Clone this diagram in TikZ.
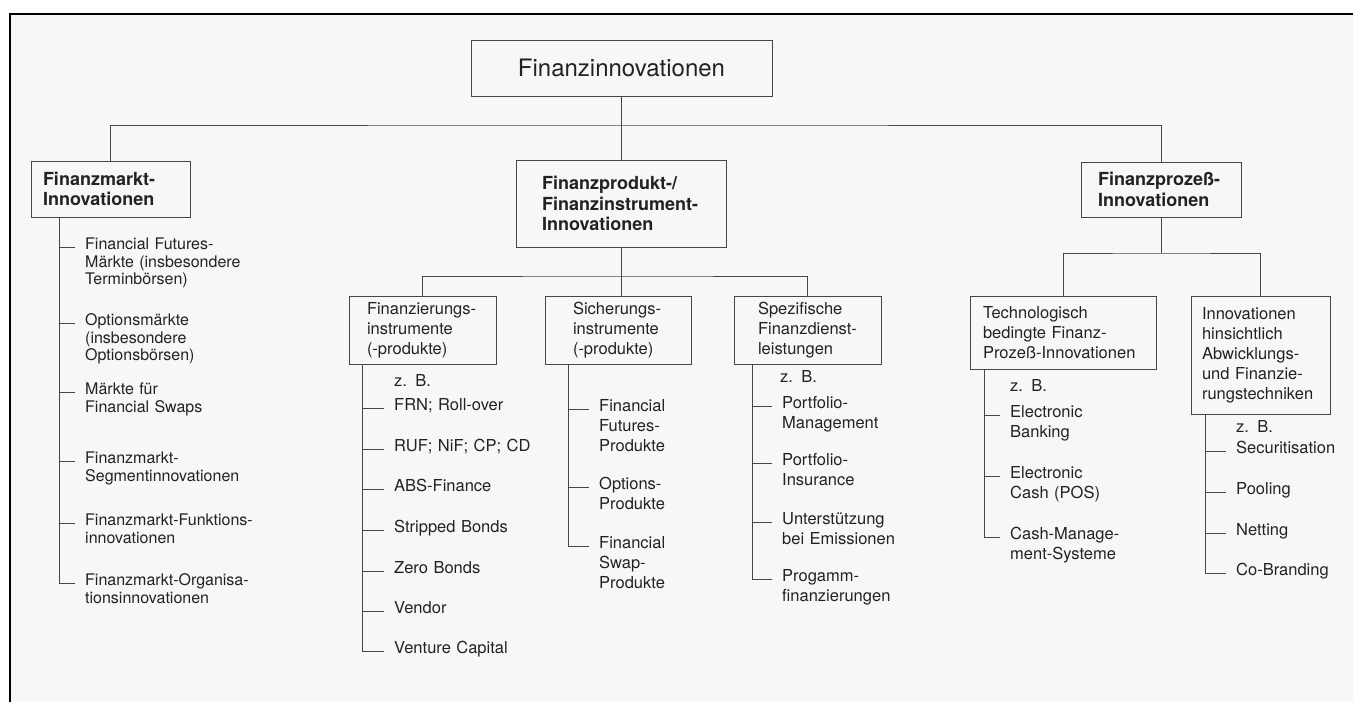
\documentclass[tikz,border=0pt]{standalone}
\usepackage{fontspec}
\setmainfont{TeX Gyre Heros}[WordSpace=0.6]
\definecolor{ink}{RGB}{34,34,34}
\definecolor{rule}{RGB}{70,70,70}
\definecolor{paper}{RGB}{247,247,247}
\tikzstyle{orgchart}=[
    box/.style n args={3}{draw=rule, line width=0.9pt, text=ink, align=left,
        inner ysep=0pt, inner xsep=##3, text width={##1-2*##3},
        minimum height=##2, font={\fontsize{16.5}{20}\selectfont}},
    head/.style n args={3}{box={##1}{##2}{##3}, font={\bfseries\fontsize{18}{20.5}\selectfont}},
    item/.style={anchor=mid west, align=left, text=ink, inner sep=0pt, text width=190pt,
        font={\fontsize{16.5}{20}\selectfont}},
    twig/.style={draw=rule, line width=0.8pt},
    bus/.style={draw=rule, line width=0.8pt},
    frame/.style={black, line width=2.5pt},
]
\newcommand{\twigs}[4][]{
    \begin{scope}[#1]
    \foreach \ypos/\lab/\txt in {#4}{
        \node[item] (\lab) at (#3,\ypos) {\txt};
        \draw[twig] (#2) |- ([xshift=-10pt]\lab.mid west);
    }
    \end{scope}
}

\begin{document}
\begin{tikzpicture}[orgchart, x=1pt, y=-1pt]
    \useasboundingbox (0,0) rectangle (1353,702);
    \fill[paper] (10,14) rectangle (1353,702);
    \draw[frame] (10,702) -- (10,14) -- (1353,14);

    % boxes
    \node[box={301}{56}{0}, align=center, font={\fontsize{24}{28}\selectfont}] (fin) at (621.5,68) {Finanzinnovationen};
    \node[head={159}{56}{12}] (fm) at (110.5,189) {Finanzmarkt-\\Innovationen};
    \node[head={210}{87}{26}] (pp) at (621,203.5) {Finanzprodukt-/\\Finanzinstrument-\\Innovationen};
    \node[head={160}{55}{17}] (pz) at (1161,189.5) {Finanzprozeß-\\Innovationen};
    \node[box={147}{68}{18}] (fi) at (422.5,330) {Finanzierungs-\\instrumente\\(-produkte)};
    \node[box={146}{68}{28}] (si) at (618,330) {Sicherungs-\\instrumente\\(-produkte)};
    \node[box={147}{68}{24}] (sp) at (807.5,330) {Spezifische\\Finanzdienst-\\leistungen};
    \node[box={186}{73}{13}] (tb) at (1063,332.5) {Technologisch\\bedingte Finanz-\\Prozeß-Innovationen};
    \node[box={139}{118}{11}] (ab) at (1260.5,355) {Innovationen\\hinsichtlich\\Abwicklungs-\\und Finanzie-\\rungstechniken};

    % connectors
    \coordinate (bus) at (621,125);
    \coordinate (bus2) at (621,276);
    \coordinate (bus3) at (1161,253);
    \draw[bus] (fin.south) -- (fin.south |- pp.north);
    \draw[bus] (fm) |- (bus) -| (pz);
    \draw[bus] (pp.south) -- (pp.south |- si.north);
    \draw[bus] (fi) |- (bus2) -| (sp);
    \draw[bus] (pz.south) -- (bus3);
    \draw[bus] (tb) |- (bus3) -| (ab);

    % z. B.
    \node[item] (fizb) at (394,384) {z. B.};
    \node[item] (spzb) at (780,380) {z. B.};
    \node[item] (tbzb) at (1010,389) {z. B.};
    \node[item] (abzb) at (1236,430) {z. B.};

    % lists
    \twigs[item/.append style={font={\fontsize{16}{17.5}\selectfont}}]{[xshift=29pt]fm.south west}{85}{
        247/fm1/{Financial Futures-\\Märkte (insbesondere\\Terminbörsen)},
        323/fm2/{Optionsmärkte\\(insbesondere\\Optionsbörsen)},
        392/fm3/{Märkte für\\Financial Swaps},
        461/fm4/{Finanzmarkt-\\Segmentinnovationen},
        523/fm5/{Finanzmarkt-Funktions-\\innovationen},
        583/fm6/{Finanzmarkt-Organisa-\\tionsinnovationen}}
    \twigs{[xshift=14pt]fi.south west}{394}{
        408/fi1/{FRN; Roll-over}, 449/fi2/{RUF; NiF; CP; CD},
        489/fi3/{ABS-Finance}, 530/fi4/{Stripped Bonds},
        571/fi5/{Zero Bonds}, 611/fi6/{Vendor}, 651/fi7/{Venture Capital}}
    \twigs{[xshift=24pt]si.south west}{599}{
        409/si1/{Financial\\Futures-\\Produkte},
        487/si2/{Options-\\Produkte},
        546/si3/{Financial\\Swap-\\Produkte}}
    \twigs{[xshift=19pt]sp.south west}{782}{
        406/sp1/{Portfolio-\\Management},
        463/sp2/{Portfolio-\\Insurance},
        522/sp3/{Unterstützung\\bei Emissionen},
        579/sp4/{Progamm-\\finanzierungen}}
    \twigs{[xshift=15pt]tb.south west}{1010}{
        415/tb1/{Electronic\\Banking},
        476/tb2/{Electronic\\Cash (POS)},
        537/tb3/{Cash-Manage-\\ment-Systeme}}
    \twigs{[xshift=15pt]ab.south west}{1236}{
        451/ab1/{Securitisation}, 492/ab2/{Pooling},
        533/ab3/{Netting}, 573/ab4/{Co-Branding}}
\end{tikzpicture}
\end{document}
